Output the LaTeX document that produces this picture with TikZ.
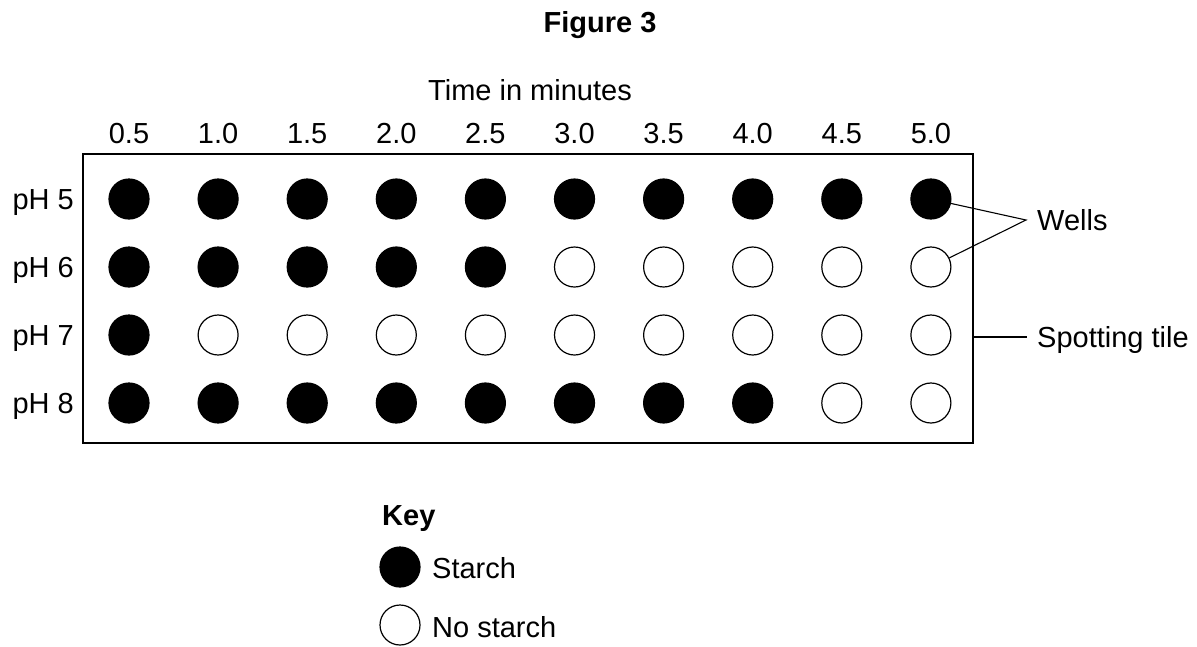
\documentclass[tikz,border=0pt]{standalone}
\usepackage{fontspec}
\setmainfont{Liberation Sans}
\begin{document}
\begin{tikzpicture}[x=1pt,y=-1pt,
  lbl/.style={inner sep=0pt,anchor=base,font=\fontsize{29}{34}\selectfont},
  full/.style={circle,draw=black,fill=black,line width=1.2pt,minimum size=40pt,inner sep=0pt},
  empty/.style={circle,draw=black,fill=white,line width=1.2pt,minimum size=40pt,inner sep=0pt},
  edge/.style={line width=1.1pt}]
\useasboundingbox (0,0) rectangle (1197,646);
\node[lbl,font=\fontsize{29}{34}\selectfont\bfseries] (fig) at (600,32) {Figure 3};
\node[lbl] (time) at (530,100) {Time in minutes};
\draw[line width=1.6pt] (83,154) rectangle (973,443);
\node[inner sep=0pt] (tile) at (973,337) {};
% column labels
\foreach \t [count=\i] in {0.5,1.0,1.5,2.0,2.5,3.0,3.5,4.0,4.5,5.0}{
  \node[lbl] (c\i) at ({129+(\i-1)*89.1},143) {\t};
}
% row labels
\foreach \p [count=\j] in {5,6,7,8}{
  \node[lbl,anchor=base east] (r\j) at (74,{209.5+(\j-1)*68}) {pH \p};
}
% wells: number filled per row
\foreach \n [count=\j] in {10,5,1,8}{
  \foreach \i in {1,...,10}{
    \pgfmathsetmacro{\st}{\i<=\n ? 1 : 0}
    \ifdim\st pt>0.5pt
      \node[full] (w\j-\i) at ({129+(\i-1)*89.1},{199+(\j-1)*68}) {};
    \else
      \node[empty] (w\j-\i) at ({129+(\i-1)*89.1},{199+(\j-1)*68}) {};
    \fi
  }
}
\coordinate (wj) at (1026,220);
\node[lbl,anchor=base west] (wells) at (1037,230) {Wells};
\draw[edge] (w1-10) -- (wj) -- (w2-10);
\node[lbl,anchor=base west] (spot) at (1037,347) {Spotting tile};
\draw[edge] (973,337) -- (1027,337);
% key
\node[lbl,anchor=base west,font=\fontsize{29}{34}\selectfont\bfseries] (key) at (382,525) {Key};
\node[full] (k1) at (400,567) {};
\node[lbl,anchor=base west] (k1t) at (432,578) {Starch};
\node[empty] (k2) at (400,625) {};
\node[lbl,anchor=base west] (k2t) at (432,637) {No starch};
\end{tikzpicture}
\end{document}
